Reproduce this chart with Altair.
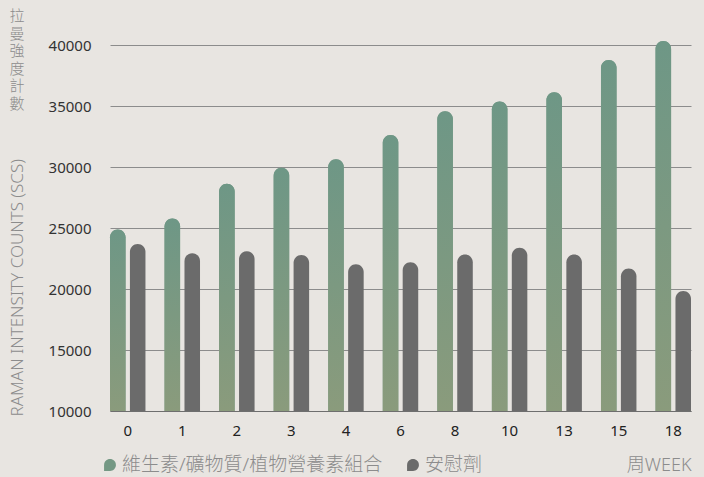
import altair as alt
import pandas as pd

# Weeks on the x axis and Raman intensity counts for each group
weeks = ["0", "1", "2", "3", "4", "6", "8", "10", "13", "15", "18"]
supplement = [24900, 25800, 28650, 29950, 30650, 32650, 34600, 35400, 36150, 38800, 40350]
placebo = [23700, 22950, 23100, 22800, 22050, 22200, 22850, 23400, 22850, 21700, 19850]

series_names = ["維生素/礦物質/植物營養素組合", "安慰劑"]
series_colors = ["#749884", "#6b6b6b"]
y_ticks = [10000, 15000, 20000, 25000, 30000, 35000, 40000]

FONT = "Noto Sans, Noto Sans CJK TC"
BG = "#e8e5e1"
MUTED = "#8c8c8c"

rows = []
for w, a, b in zip(weeks, supplement, placebo):
    rows.append({"week": w, "series": series_names[0], "value": a})
    rows.append({"week": w, "series": series_names[1], "value": b})
df = pd.DataFrame(rows)

x_enc = alt.X(
    "week:N",
    sort=weeks,
    scale=alt.Scale(range=[9, 590], paddingInner=0.35, paddingOuter=0),
    axis=alt.Axis(
        title="周WEEK",
        labelAngle=0,
        labelFontSize=15,
        labelColor="#222222",
        labelFont=FONT,
        labelPadding=12,
        ticks=False,
        grid=False,
        domainColor="#6e6e6e",
        domainWidth=1.2,
        titleFont=FONT,
        titleFontSize=18,
        titleFontWeight=300,
        titleColor=MUTED,
        titleAnchor="end",
        titleAlign="right",
        titleBaseline="middle",
        titleX=590,
        titleY=54,
    ),
)
xoff_enc = alt.XOffset(
    "series:N",
    sort=series_names,
    scale=alt.Scale(domain=series_names, paddingInner=0.22, paddingOuter=0),
)
y_enc = alt.Y(
    "value:Q",
    scale=alt.Scale(domain=[10000, 42000], nice=False, zero=False),
    axis=alt.Axis(
        values=y_ticks,
        format="d",
        title="RAMAN INTENSITY COUNTS (SCS)",
        titleFont=FONT,
        titleFontSize=17,
        titleFontWeight=300,
        titleColor=MUTED,
        titleAngle=270,
        titleAlign="left",
        titleBaseline="middle",
        titleX=-84,
        titleY=395,
        labelFontSize=15,
        labelColor="#333333",
        labelFont=FONT,
        labelPadding=10,
        ticks=False,
        domain=False,
        grid=True,
        gridColor="#8c8c8c",
        gridWidth=1,
    ),
)

# Base bars: both groups with solid colours
base = alt.Chart(df).mark_bar(
    cornerRadiusTopLeft=8, cornerRadiusTopRight=8
).encode(
    x=x_enc,
    xOffset=xoff_enc,
    y=y_enc,
    y2=alt.datum(10000),
    color=alt.Color(
        "series:N",
        sort=series_names,
        scale=alt.Scale(domain=series_names, range=series_colors),
        legend=None,
    ),
)

# Supplement bars drawn again with a vertical gradient fill
gradient = alt.Gradient(
    gradient="linear",
    x1=0, y1=0, x2=0, y2=1,
    stops=[
        alt.GradientStop(offset=0, color="#6e9786"),
        alt.GradientStop(offset=1, color="#8a9b7c"),
    ],
)
green = alt.Chart(df).transform_filter(
    alt.datum.series == series_names[0]
).mark_bar(
    cornerRadiusTopLeft=8, cornerRadiusTopRight=8, color=gradient
).encode(
    x=x_enc,
    xOffset=xoff_enc,
    y=y_enc,
    y2=alt.datum(10000),
)

# Stacked vertical Chinese part of the y axis title
one = pd.DataFrame({"t": [0]})
cjk_title = alt.Chart(one).mark_text(
    font=FONT,
    fontSize=15,
    fontWeight=300,
    color=MUTED,
    align="center",
    baseline="top",
    lineHeight=17.5,
).encode(
    x=alt.value(-84),
    y=alt.value(-12),
    text=alt.value(["拉", "曼", "強", "度", "計", "數"]),
)

# Legend row under the x axis
LEGEND_SHAPE = "M-1,0 A1,1 0 0,1 1,0 A1,1 0 0,1 0,1 L-1,1 Z"
legend_layers = []
for name, color, sx in zip(series_names, series_colors, [9, 312]):
    legend_layers.append(
        alt.Chart(one).mark_point(
            shape=LEGEND_SHAPE, size=140, filled=True, opacity=1, color=color
        ).encode(x=alt.value(sx), y=alt.value(444))
    )
    legend_layers.append(
        alt.Chart(one).mark_text(
            font=FONT,
            fontSize=19,
            fontWeight=300,
            color=MUTED,
            align="left",
            baseline="middle",
        ).encode(x=alt.value(sx + 12), y=alt.value(444), text=alt.value(name))
    )

chart = alt.layer(base, green, cjk_title, *legend_layers).properties(
    width=603,
    height=390,
    background=BG,
    padding={"left": 101, "top": 21, "right": 0, "bottom": 66},
    autosize=alt.AutoSizeParams(type="none"),
).configure_view(stroke=None)

chart.save("out.html", embed_options={"renderer": "svg", "actions": False})
